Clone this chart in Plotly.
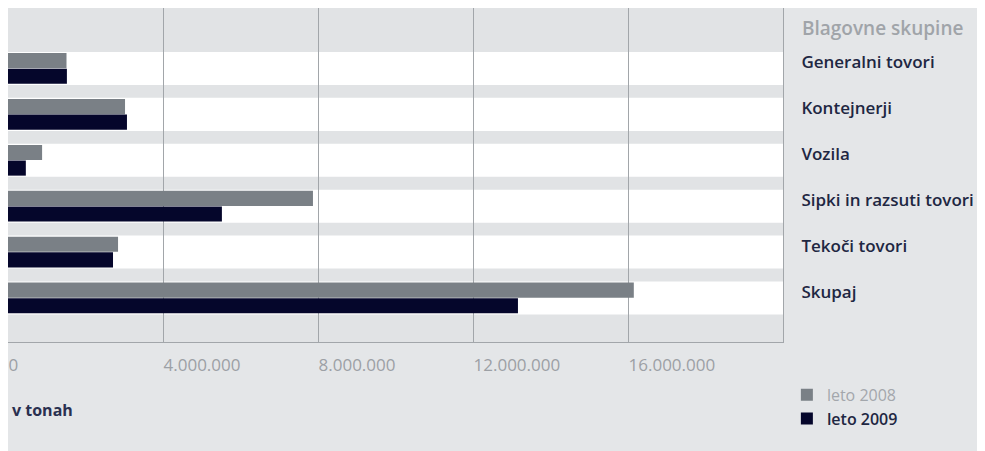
import plotly.graph_objects as go

categories = ["Generalni tovori", "Kontejnerji", "Vozila", "Sipki in razsuti tovori", "Tekoči tovori", "Skupaj"]
leto_2008 = [1510000, 3020000, 880000, 7870000, 2840000, 16150000]
leto_2009 = [1520000, 3070000, 460000, 5520000, 2710000, 13160000]
series_names = ["leto 2008", "leto 2009"]
tick_values = [0, 4000000, 8000000, 12000000, 16000000]
tick_labels = ["0", "4.000.000", "8.000.000", "12.000.000", "16.000.000"]

GRAY_BAR = "#7a8086"
DARK_BAR = "#05062b"
PAPER = "#e4e6e8"
BAND = "#e1e3e5"
GRID = "#a2a6aa"
NAVY = "#1e2742"
TICK = "#9ca0a5"
FONT = "Open Sans"

fig = go.Figure()
fig.add_trace(go.Bar(
    y=categories, x=leto_2008, orientation="h",
    name="<span style='color:%s;font-weight:normal'>%s</span>" % ("#a3a7ac", series_names[0]),
    marker=dict(color=GRAY_BAR, line=dict(width=0)),
    legendgroup="a",
))
fig.add_trace(go.Bar(
    y=categories, x=leto_2009, orientation="h",
    name=series_names[1],
    marker=dict(color=DARK_BAR, line=dict(width=0)),
    legendgroup="b",
))

shapes = []
for i in range(len(categories)):
    shapes.append(dict(type="rect", xref="paper", yref="y", x0=0, x1=1,
                       y0=i - 0.36, y1=i + 0.36, fillcolor="white",
                       line=dict(width=0), layer="below"))

fig.update_layout(
    width=977, height=443,
    margin=dict(l=0, r=202, t=0, b=109),
    paper_bgcolor=PAPER, plot_bgcolor=BAND,
    barmode="group", bargap=0.32, bargroupgap=0.03,
    font=dict(family=FONT, color=NAVY),
    shapes=shapes,
    showlegend=True,
    legend=dict(x=1.005, y=-0.107, xanchor="left", yanchor="top",
                bgcolor="rgba(0,0,0,0)", traceorder="grouped", tracegroupgap=0,
                font=dict(family=FONT, size=16, color=NAVY, weight=600),
                itemwidth=30),
    xaxis=dict(range=[0, 20000000], tickvals=tick_values, ticktext=tick_labels,
               showgrid=True, gridcolor=GRID, gridwidth=1, zeroline=False,
               showline=True, linecolor=GRID, linewidth=1,
               ticks="", ticklabelposition="outside right", ticklabelstandoff=8,
               tickfont=dict(family=FONT, size=17, color=TICK), fixedrange=True),
    yaxis=dict(range=[5.96, -1.318], side="right", showgrid=False, zeroline=False,
               showline=True, linecolor=GRID, linewidth=1, ticks="",
               ticklabelstandoff=14, ticklabelshift=6,
               tickfont=dict(family=FONT, size=17, color=NAVY, weight=600),
               fixedrange=True),
    annotations=[
        dict(text="Blagovne skupine", xref="paper", yref="paper", x=1.022, y=0.94,
             xanchor="left", yanchor="middle", showarrow=False,
             font=dict(family=FONT, size=19, color="#a0a4a9", weight=600)),
        dict(text="v tonah", xref="paper", yref="paper", x=0.003, y=-0.204,
             xanchor="left", yanchor="middle", showarrow=False,
             font=dict(family=FONT, size=16, color="#2a3050", weight=700)),
    ],
)

fig.write_html("out.html")
